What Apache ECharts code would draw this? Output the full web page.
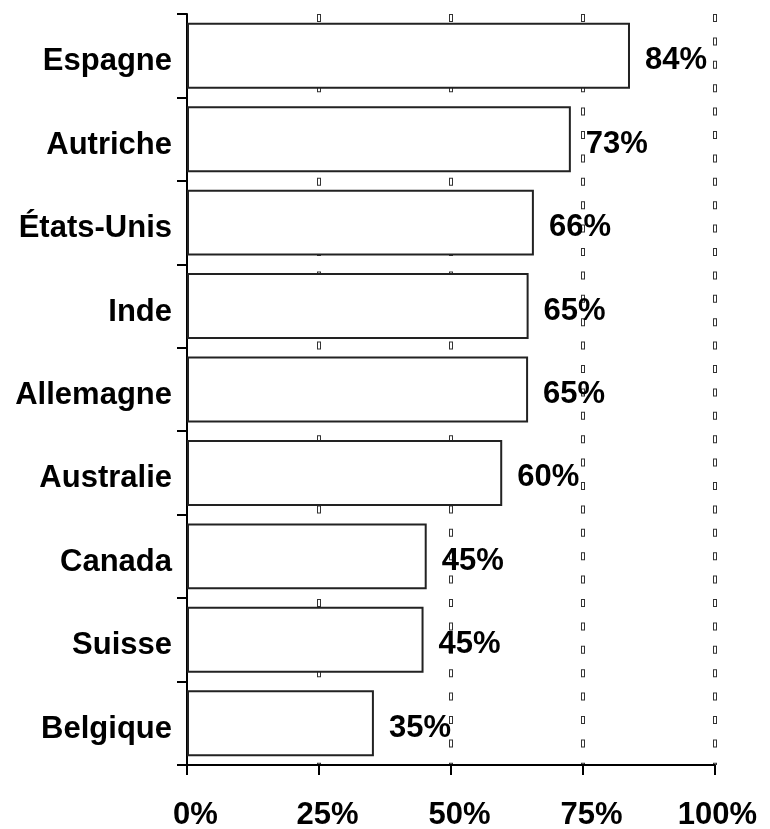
<!DOCTYPE html>
<html>
<head>
<meta charset="utf-8">
<script src="https://cdn.jsdelivr.net/npm/echarts@6/dist/echarts.min.js"></script>
<style>
html,body{margin:0;padding:0;background:#fff;}
#chart{width:770px;height:829px;}
</style>
</head>
<body>
<div id="chart"></div>
<script>
// pays, du haut vers le bas
var countries = ['Espagne', 'Autriche', 'États-Unis', 'Inde', 'Allemagne', 'Australie', 'Canada', 'Suisse', 'Belgique'];
// part en %
var shares = [83.9, 72.7, 65.7, 64.7, 64.6, 59.7, 45.4, 44.8, 35.4];
var xTicks = [0, 25, 50, 75, 100];

var font = '"Liberation Sans", Arial, sans-serif';

var myChart = echarts.init(document.getElementById('chart'));

var option = {
	animation: false,
	backgroundColor: '#fff',
	grid: {
		left: 187,
		right: 55,
		top: 14,
		bottom: 64,
		containLabel: false,
		outerBoundsMode: 'none'
	},
	xAxis: [{
		type: 'value',
		min: xTicks[0],
		max: xTicks[xTicks.length - 1],
		interval: 25,
		axisLine: {show: true, onZero: false, lineStyle: {color: '#000', width: 2}},
		axisTick: {show: true, length: 10, lineStyle: {color: '#000', width: 2}},
		axisLabel: {
			margin: 35,
			formatter: function (v) {
				return v === 100 ? '{b|' + v + '%}' : '{a|' + v + '%}';
			},
			rich: {
				a: {fontFamily: font, fontWeight: 'bold', fontSize: 31, color: '#000', lineHeight: 30, padding: [0, 0, 0, 17]},
				b: {fontFamily: font, fontWeight: 'bold', fontSize: 31, color: '#000', lineHeight: 30, padding: [0, 0, 0, 5]}
			}
		},
		splitLine: {
			show: true,
			showMinLine: false,
			lineStyle: {color: '#333', width: 4, type: [8, 15.4], dashOffset: 0}
		}
	}, {
		// deuxième passe : évide les petits rectangles de la grille
		type: 'value',
		position: 'top',
		min: xTicks[0],
		max: xTicks[xTicks.length - 1],
		interval: 25,
		axisLine: {show: false},
		axisTick: {show: false},
		axisLabel: {show: false},
		splitLine: {
			show: true,
			showMinLine: false,
			lineStyle: {color: '#fff', width: 2, type: [6, 17.4], dashOffset: -1}
		}
	}],
	yAxis: {
		type: 'category',
		inverse: true,
		data: countries,
		axisLine: {show: true, lineStyle: {color: '#000', width: 2}},
		axisTick: {show: true, length: 10, alignWithLabel: false, lineStyle: {color: '#000', width: 2}},
		axisLabel: {
			margin: 15,
			// ligne vide au-dessus pour descendre le texte de quelques pixels
			formatter: function (v) {
				return '{s| }\n{a|' + v + '}';
			},
			rich: {
				s: {fontSize: 4, lineHeight: 12},
				a: {fontFamily: font, fontWeight: 'bold', fontSize: 31, color: '#000', lineHeight: 34}
			}
		},
		splitLine: {show: false}
	},
	series: [{
		type: 'bar',
		xAxisIndex: 0,
		data: shares,
		barCategoryGap: '21%',
		itemStyle: {color: '#fff', borderColor: '#222', borderWidth: 2},
		label: {
			show: true,
			position: 'right',
			distance: 15,
			offset: [0, 5],
			color: '#000',
			fontFamily: font,
			fontWeight: 'bold',
			fontSize: 31,
			formatter: function (p) {
				return Math.round(p.value) + '%';
			}
		},
		z: 3
	}]
};

myChart.setOption(option);
</script>
</body>
</html>
